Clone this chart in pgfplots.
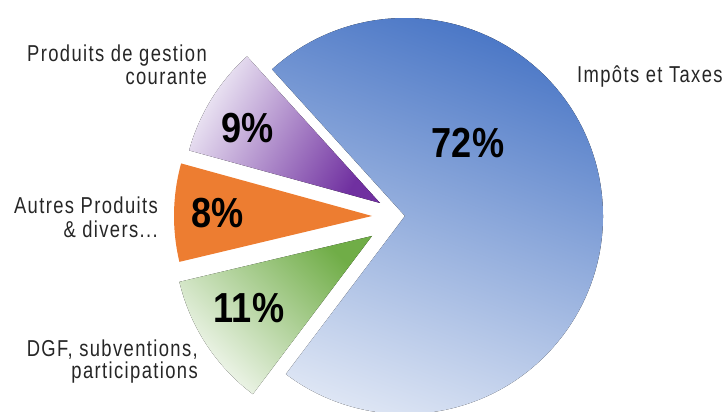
\documentclass[border=0pt]{standalone}
\usepackage{fontspec}
\setmainfont[FakeStretch=0.82]{Liberation Sans}
\newfontfamily\lblfont[FakeStretch=0.8, LetterSpace=6]{Liberation Sans}
\newfontfamily\pctfont[FakeStretch=0.86]{Liberation Sans}
\usepackage{pgfplots}
\usepackage{pgfplotstable}
\pgfplotsset{compat=1.18}

\definecolor{bleuF}{HTML}{4472C4}
\definecolor{bleuC}{HTML}{DDE5F4}
\definecolor{violetF}{HTML}{7030A0}
\definecolor{violetC}{HTML}{EEE9F5}
\definecolor{orange}{HTML}{ED7D31}
\definecolor{vertF}{HTML}{70AD47}
\definecolor{vertC}{HTML}{F4F8F1}

\tikzset{
  lbl/.style={font=\lblfont\fontsize{23}{23}\selectfont, text=black!85, inner sep=0pt},
  pct/.style={font=\pctfont\fontsize{42}{42}\selectfont\bfseries, text=black, inner sep=0pt},
}

% parts (%) et position de la pointe de chaque part (eclatee)
\pgfplotstableread{
part pct cx cy
impots 72 405 196
gestion 9 380 209
autres 8 372 196
dgf 11 372 176
}\recettes

\def\R{198pt}
\def\depart{-127}
% angles cumules a partir des pourcentages
\pgfplotstablegetelem{0}{pct}\of\recettes
\pgfmathsetmacro\aA{\depart+3.6*\pgfplotsretval}
\pgfplotstablegetelem{1}{pct}\of\recettes
\pgfmathsetmacro\aB{\aA+3.6*\pgfplotsretval}
\pgfplotstablegetelem{2}{pct}\of\recettes
\pgfmathsetmacro\aC{\aB+3.6*\pgfplotsretval}
\pgfplotstablegetelem{3}{pct}\of\recettes
\pgfmathsetmacro\aD{\aC+3.6*\pgfplotsretval}
\pgfplotstablegetelem{0}{cx}\of\recettes \let\xA\pgfplotsretval
\pgfplotstablegetelem{0}{cy}\of\recettes \let\yA\pgfplotsretval
\pgfplotstablegetelem{1}{cx}\of\recettes \let\xB\pgfplotsretval
\pgfplotstablegetelem{1}{cy}\of\recettes \let\yB\pgfplotsretval
\pgfplotstablegetelem{2}{cx}\of\recettes \let\xC\pgfplotsretval
\pgfplotstablegetelem{2}{cy}\of\recettes \let\yC\pgfplotsretval
\pgfplotstablegetelem{3}{cx}\of\recettes \let\xD\pgfplotsretval
\pgfplotstablegetelem{3}{cy}\of\recettes \let\yD\pgfplotsretval

\begin{document}
\begin{tikzpicture}
\begin{axis}[
    width=724pt, height=412pt, scale only axis,
    xmin=0, xmax=724, ymin=0, ymax=412,
    hide axis,
]
\coordinate (LL) at (axis cs:0,0);
\coordinate (UR) at (axis cs:724,412);

\fill[top color=bleuF, bottom color=bleuC, shading angle=-20]
  (axis cs:\xA,\yA) -- ++(\depart:\R) arc[start angle=\depart, end angle=\aA, radius=\R] -- cycle;
\fill[top color=violetC, bottom color=violetF, shading angle=60]
  (axis cs:\xB,\yB) -- ++(\aA:\R) arc[start angle=\aA, end angle=\aB, radius=\R] -- cycle;
\fill[orange]
  (axis cs:\xC,\yC) -- ++(\aB:\R) arc[start angle=\aB, end angle=\aC, radius=\R] -- cycle;
\fill[top color=vertF, bottom color=vertC, shading angle=-45]
  (axis cs:\xD,\yD) -- ++(\aC:\R) arc[start angle=\aC, end angle=\aD, radius=\R] -- cycle;

\node[pct] at (axis cs:468,269) {72\%};
\node[pct] at (axis cs:248,284) {9\%};
\node[pct] at (axis cs:218,199) {8\%};
\node[pct] at (axis cs:249,104) {11\%};

\node[lbl, anchor=base east] at (axis cs:207,350) {Produits de gestion};
\node[lbl, anchor=base east] at (axis cs:207,327) {courante};
\node[lbl, anchor=base east] at (axis cs:158,198) {Autres Produits};
\node[lbl, anchor=base east] at (axis cs:158,174) {\& divers...};
\node[lbl, anchor=base east] at (axis cs:198,55) {DGF, subventions,};
\node[lbl, anchor=base east] at (axis cs:198,33) {participations};
\node[lbl, anchor=base west] at (axis cs:577,329) {Impôts et Taxes};
\end{axis}
\pgfresetboundingbox
\path (LL) rectangle (UR);
\end{tikzpicture}
\end{document}
